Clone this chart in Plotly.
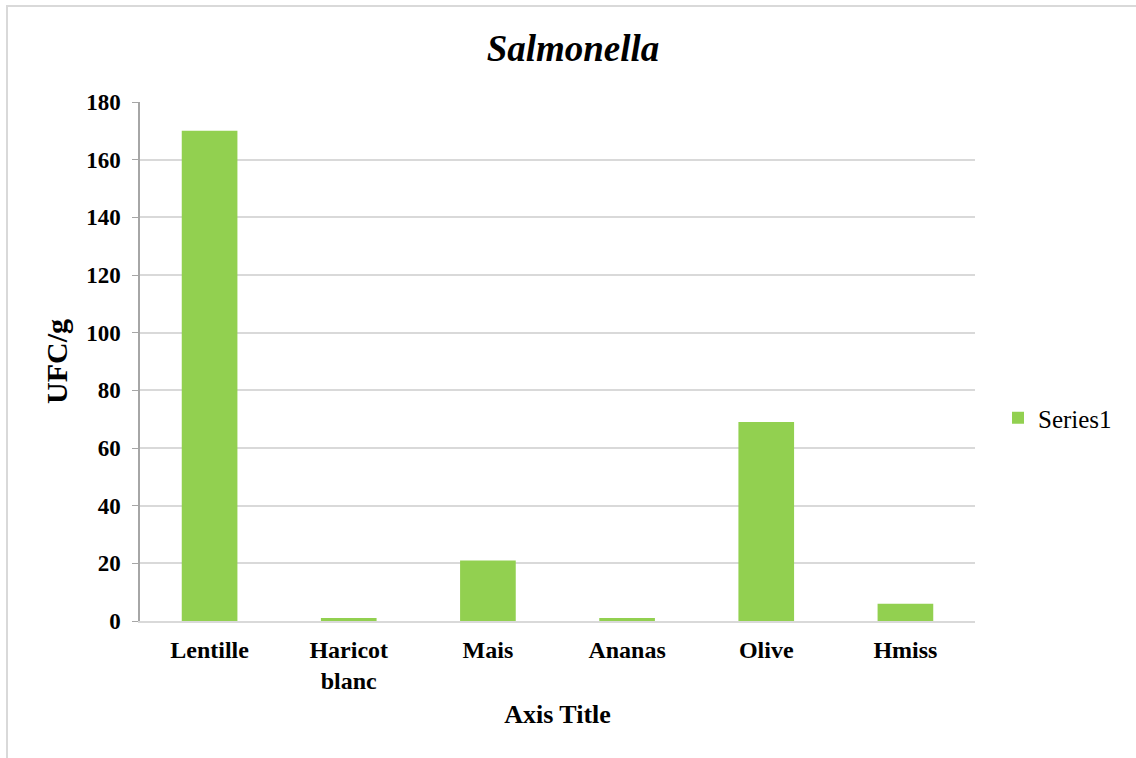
import plotly.graph_objects as go

categories = ["Lentille", "Haricot<br>blanc", "Mais", "Ananas", "Olive", "Hmiss"]
values = [170, 1, 21, 1, 69, 6]
series_name = "Series1"
y_ticks = [0, 20, 40, 60, 80, 100, 120, 140, 160, 180]

FONT = "Liberation Serif, Times New Roman, serif"
GREEN = "#92D050"

L, R, T, B = 140, 161, 102, 137
W, H = 1136, 758
pw, ph = W - L - R, H - T - B

fig = go.Figure()
fig.add_trace(go.Bar(x=categories, y=values, name=series_name,
                     marker=dict(color=GREEN, line=dict(width=0)),
                     showlegend=True))

fig.update_layout(
    width=W, height=H,
    margin=dict(l=L, r=R, t=T, b=B, pad=0, autoexpand=False),
    paper_bgcolor="white", plot_bgcolor="white",
    bargap=0.6,
    font=dict(family=FONT, color="black"),
    title=dict(text="Salmonella", x=573 / W, xref="container", xanchor="center",
               y=1 - 48 / H, yref="container", yanchor="middle",
               font=dict(family=FONT, size=37, weight="bold", style="italic", color="black")),
    xaxis=dict(showgrid=False, showline=True, linecolor="#d9d9d9", linewidth=2,
               ticks="", tickfont=dict(family=FONT, size=24, weight="bold"),
               ticklabelstandoff=6,
               title=dict(text="Axis Title", font=dict(family=FONT, size=26, weight="bold"),
                          standoff=12)),
    yaxis=dict(range=[0, 180], tickvals=y_ticks, showgrid=True, gridcolor="#d9d9d9",
               gridwidth=1.5, showline=True, linecolor="#a6a6a6", linewidth=1.5,
               ticks="outside", ticklen=6, tickcolor="#a6a6a6",
               ticklabelstandoff=7,
               tickfont=dict(family=FONT, size=23, weight="bold"), zeroline=False,
               title=dict(text="UFC/g", font=dict(family=FONT, size=30, weight="bold"),
                          standoff=10)),
    legend=dict(x=(998 - L) / pw, xanchor="left", y=(H - B - 418) / ph, yanchor="middle",
                font=dict(family=FONT, size=25), itemwidth=30, bgcolor="rgba(0,0,0,0)"),
)

# chart border (top and left edges visible, right/bottom beyond frame)
x0 = (7 - L) / pw
y_top = (H - B - 6) / ph
fig.add_shape(type="rect", xref="paper", yref="paper", x0=x0, x1=1.3, y0=-0.4, y1=y_top,
              line=dict(color="#d9d9d9", width=2), fillcolor="rgba(0,0,0,0)", layer="below")

fig.write_html("out.html")
